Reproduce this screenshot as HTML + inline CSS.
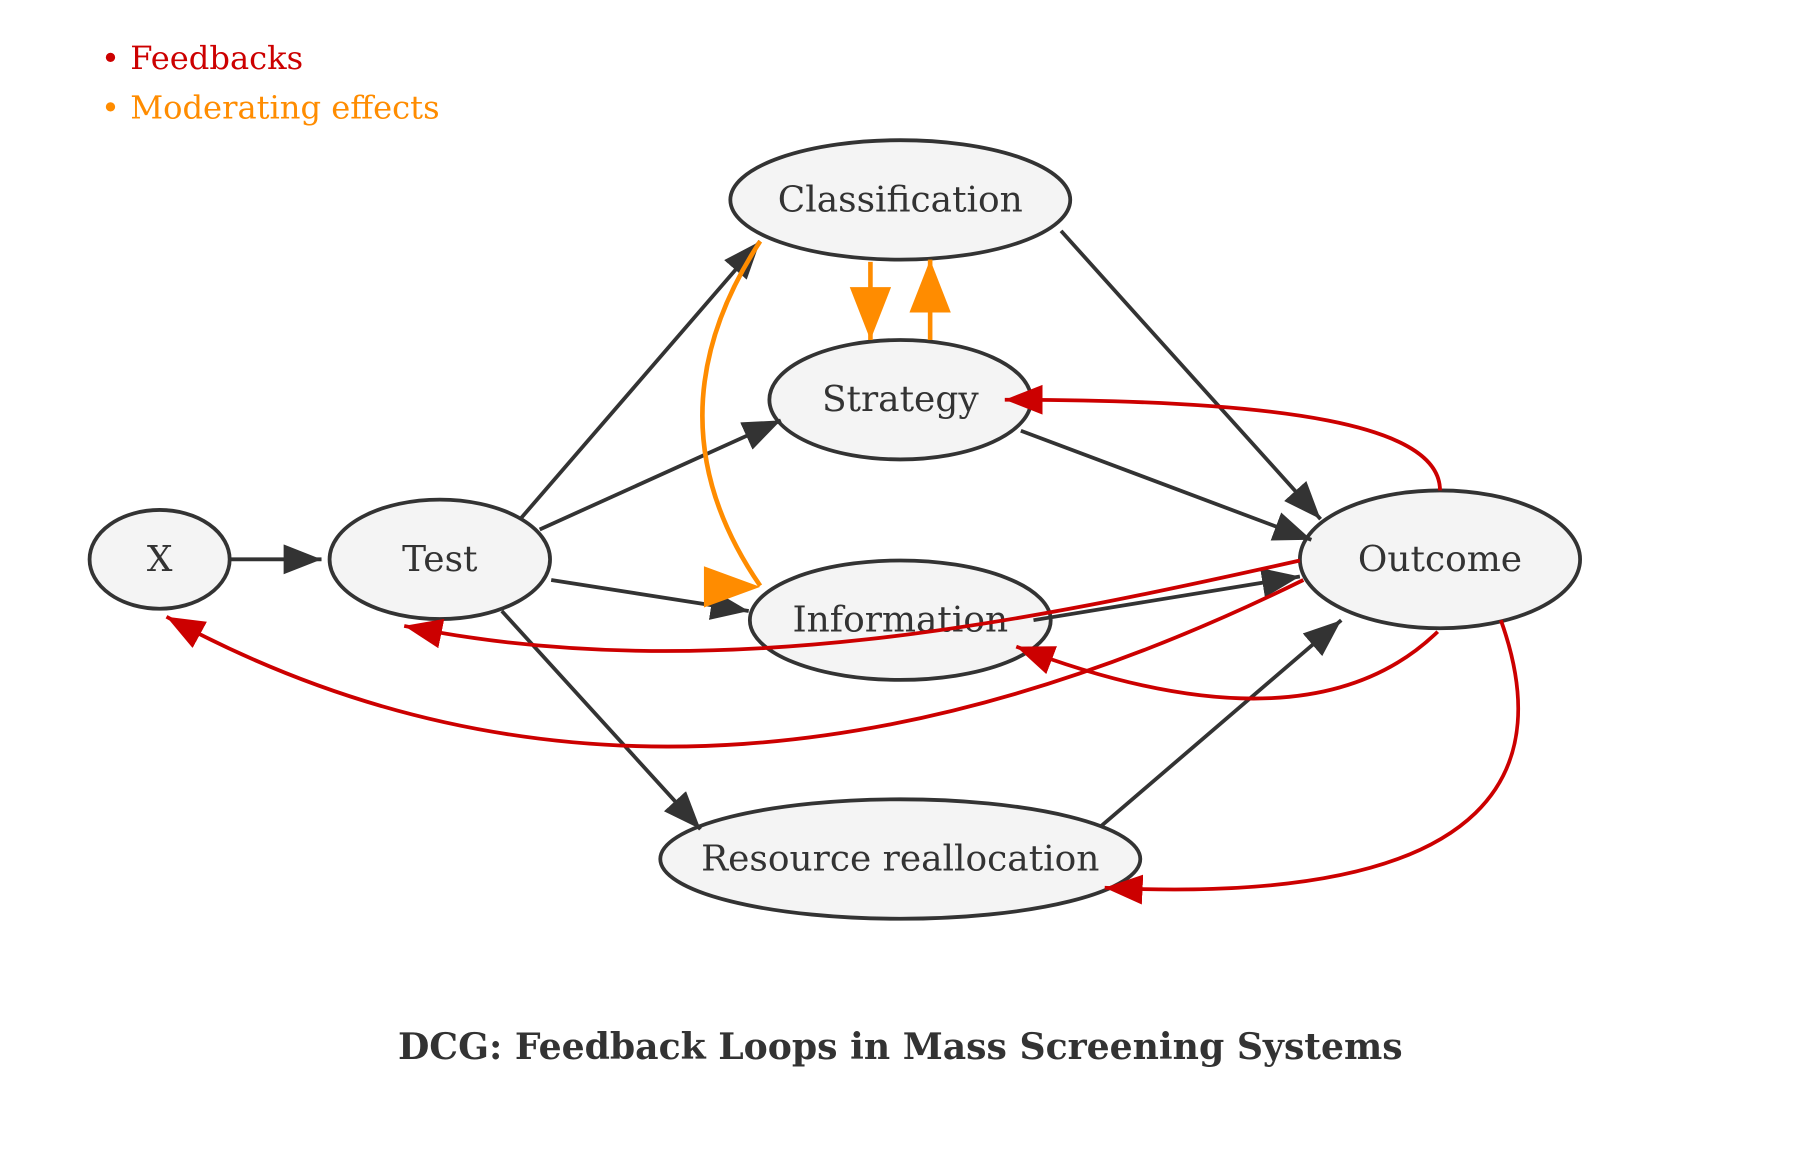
<!DOCTYPE html>
<html><head><meta charset="utf-8"><style>html,body{margin:0;padding:0;background:#fff}svg{display:block}</style></head>
<body>
<svg width="1800" height="1160" viewBox="0 0 1567.5 1010" xmlns="http://www.w3.org/2000/svg" font-family="'DejaVu Serif','Liberation Serif',serif">
<defs>
<marker id="d" markerUnits="userSpaceOnUse" markerWidth="36" markerHeight="28" refX="33" refY="13" orient="auto"><path d="M0,0 L33,13 L0,26 z" fill="#333"/></marker>
<marker id="r" markerUnits="userSpaceOnUse" markerWidth="36" markerHeight="28" refX="33" refY="13" orient="auto"><path d="M0,0 L33,13 L0,26 z" fill="#cc0000"/></marker>
<marker id="o" markerUnits="userSpaceOnUse" markerWidth="50" markerHeight="40" refX="46" refY="18" orient="auto"><path d="M0,0 L46,18 L0,36 z" fill="#ff8c00"/></marker>
</defs>
<rect width="1567.5" height="1010" fill="#fff"/>
<text x="88" y="60" font-size="28" fill="#cc0000">• Feedbacks</text>
<text x="88" y="103" font-size="28" fill="#ff8c00">• Moderating effects</text>
<g fill="#f4f4f4" stroke="#333" stroke-width="3.3">
<ellipse cx="784" cy="174" rx="148" ry="52"/>
<ellipse cx="784" cy="348" rx="114" ry="52"/>
<ellipse cx="139" cy="487" rx="61" ry="43"/>
<ellipse cx="383" cy="487" rx="96" ry="52"/>
<ellipse cx="784" cy="540" rx="131" ry="52"/>
<ellipse cx="1254" cy="487" rx="122" ry="60"/>
<ellipse cx="784" cy="748" rx="209" ry="52"/>
</g>
<g font-size="31.3" fill="#333" text-anchor="middle">
<text x="784" y="184">Classification</text>
<text x="784" y="358">Strategy</text>
<text x="139" y="497">X</text>
<text x="383" y="497">Test</text>
<text x="784" y="550">Information</text>
<text x="1254" y="497">Outcome</text>
<text x="784" y="758">Resource reallocation</text>
</g>
<g stroke="#333" stroke-width="3.3" fill="none">
<line x1="201" y1="487" x2="280" y2="487" marker-end="url(#d)"/>
<line x1="453" y1="452" x2="662" y2="210" marker-end="url(#d)"/>
<line x1="470" y1="461" x2="680" y2="366" marker-end="url(#d)"/>
<line x1="480" y1="505" x2="652" y2="532" marker-end="url(#d)"/>
<line x1="437" y1="532" x2="610" y2="722" marker-end="url(#d)"/>
<line x1="924" y1="201" x2="1150" y2="452" marker-end="url(#d)"/>
<line x1="889" y1="375" x2="1142" y2="470" marker-end="url(#d)"/>
<line x1="900" y1="540" x2="1132" y2="502" marker-end="url(#d)"/>
<line x1="958" y1="720" x2="1168" y2="540" marker-end="url(#d)"/>
</g>
<g stroke="#ff8c00" stroke-width="4" fill="none">
<line x1="758" y1="228" x2="758" y2="296" marker-end="url(#o)"/>
<line x1="810" y1="296" x2="810" y2="226" marker-end="url(#o)"/>
<path d="M662,510 C600,420 590,320 662,210"/>
</g>
<polygon points="613,493 613,529 662,511" fill="#ff8c00"/>
<g stroke="#cc0000" stroke-width="3.3" fill="none">
<path d="M1254,427 C1254,370 1120,348 875,348" marker-end="url(#r)"/>
<path d="M1132,488 C900,540 620,600 352,545" marker-end="url(#r)"/>
<path d="M1135,505 C820,660 480,720 145,537" marker-end="url(#r)"/>
<path d="M1252,550 C1180,620 1060,630 885,563" marker-end="url(#r)"/>
<path d="M1307,540 C1350,660 1320,790 962,773" marker-end="url(#r)"/>
</g>
<text x="784" y="922" font-size="31.5" font-weight="bold" fill="#333" text-anchor="middle">DCG: Feedback Loops in Mass Screening Systems</text>
</svg>
</body></html>
